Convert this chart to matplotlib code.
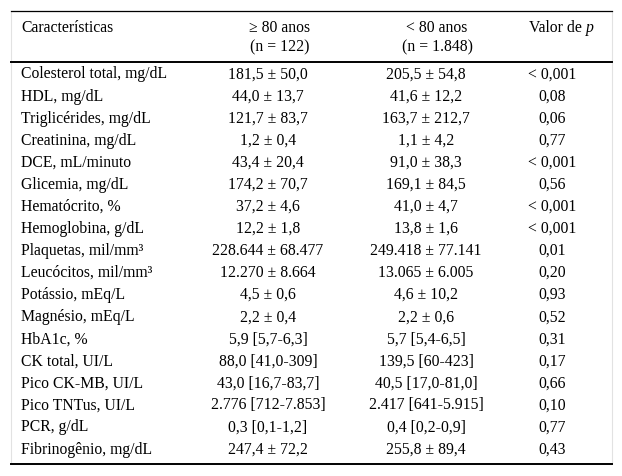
import matplotlib.pyplot as plt

plt.rcParams['font.family'] = ['Liberation Serif', 'DejaVu Serif']

headers = ['Características', '\u2265 80 anos', '< 80 anos', 'Valor de ']
subheaders = ['', '(n = 122)', '(n = 1.848)', '']

labels = [
    'Colesterol total, mg/dL', 'HDL, mg/dL', 'Triglicérides, mg/dL', 'Creatinina, mg/dL',
    'DCE, mL/minuto', 'Glicemia, mg/dL', 'Hematócrito, %', 'Hemoglobina, g/dL',
    'Plaquetas, mil/mm³', 'Leucócitos, mil/mm³', 'Potássio, mEq/L', 'Magnésio, mEq/L',
    'HbA1c, %', 'CK total, UI/L', 'Pico CK-MB, UI/L', 'Pico TNTus, UI/L',
    'PCR, g/dL', 'Fibrinogênio, mg/dL',
]
idosos = [
    '181,5 ± 50,0', '44,0 ± 13,7', '121,7 ± 83,7', '1,2 ± 0,4', '43,4 ± 20,4',
    '174,2 ± 70,7', '37,2 ± 4,6', '12,2 ± 1,8', '228.644 ± 68.477', '12.270 ± 8.664',
    '4,5 ± 0,6', '2,2 ± 0,4', '5,9 [5,7-6,3]', '88,0 [41,0-309]', '43,0 [16,7-83,7]',
    '2.776 [712-7.853]', '0,3 [0,1-1,2]', '247,4 ± 72,2',
]
jovens = [
    '205,5 ± 54,8', '41,6 ± 12,2', '163,7 ± 212,7', '1,1 ± 4,2', '91,0 ± 38,3',
    '169,1 ± 84,5', '41,0 ± 4,7', '13,8 ± 1,6', '249.418 ± 77.141', '13.065 ± 6.005',
    '4,6 ± 10,2', '2,2 ± 0,6', '5,7 [5,4-6,5]', '139,5 [60-423]', '40,5 [17,0-81,0]',
    '2.417 [641-5.915]', '0,4 [0,2-0,9]', '255,8 ± 89,4',
]
p_valores = [
    '< 0,001', '0,08', '0,06', '0,77', '< 0,001', '0,56', '< 0,001', '< 0,001', '0,01',
    '0,20', '0,93', '0,52', '0,31', '0,17', '0,66', '0,10', '0,77', '0,43',
]

fig = plt.figure(figsize=(6.22, 4.77), dpi=100)
ax = fig.add_axes([0, 0, 1, 1])
ax.set_xlim(0, 622)
ax.set_ylim(477, 0)
ax.axis('off')

fs = 11.3
bl = 4.5  # deslocamento da linha de base
# caixa cinza clara em volta
ax.add_patch(plt.Rectangle((10.5, 12), 601, 453, fill=False, ec='#e2e2e2', lw=0.8))
ax.plot([10.5, 611.5], [12, 12], color='black', lw=0.9)
ax.plot([10.5, 611.5], [62.5, 62.5], color='black', lw=1.4)
ax.plot([10.5, 611.5], [465, 465], color='black', lw=1.4)

# cabecalho
ax.text(21, 27 + bl, headers[0], ha='left', va='baseline', fontsize=fs)
for x, h, s in zip([280, 437], headers[1:3], subheaders[1:3]):
    ax.text(x, 27 + bl, h, ha='center', va='baseline', fontsize=fs)
    ax.text(x, 47 + bl, s, ha='center', va='baseline', fontsize=fs)
# "Valor de p" com p em italico
t = ax.text(529, 27 + bl, headers[3], ha='left', va='baseline', fontsize=fs)
r = fig.canvas.get_renderer()
bb = t.get_window_extent(renderer=r)
ax.text(529 + bb.width, 27 + bl, 'p', ha='left', va='baseline', fontsize=fs, style='italic')

# linhas da tabela
y0, dy = 74, 22.06
for i, (lab, a, b, p) in enumerate(zip(labels, idosos, jovens, p_valores)):
    y = y0 + i * dy + bl
    ax.text(21, y, lab, ha='left', va='baseline', fontsize=fs)
    ax.text(268, y, a, ha='center', va='baseline', fontsize=fs)
    ax.text(426, y, b, ha='center', va='baseline', fontsize=fs)
    ax.text(552, y, p, ha='center', va='baseline', fontsize=fs)

fig.savefig('out.png', dpi=100, facecolor='white')
